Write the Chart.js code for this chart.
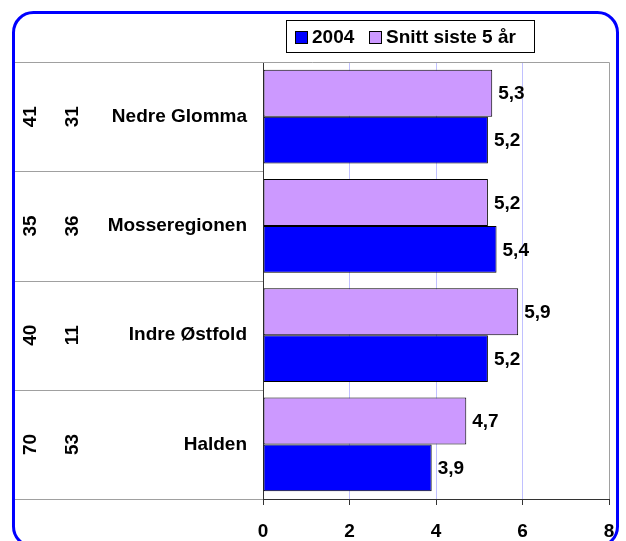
<!DOCTYPE html>
<html>
<head>
<meta charset="utf-8">
<script src="https://cdn.jsdelivr.net/npm/chart.js@4/dist/chart.umd.min.js"></script>
<style>
  html, body { margin: 0; padding: 0; background: #fff; }
  canvas { display: block; }
</style>
</head>
<body>
<canvas id="chart" width="626" height="541"></canvas>
<script>
// regioner og verdier
const regions = ['Nedre Glomma', 'Mosseregionen', 'Indre Østfold', 'Halden'];
const values2004 = [5.2, 5.4, 5.2, 3.9];
const valuesAvg5 = [5.3, 5.2, 5.9, 4.7];
const rankA = [41, 35, 40, 70];
const rankB = [31, 36, 11, 53];
const xTicks = [0, 2, 4, 6, 8];

const FONT = '"Liberation Sans", Arial, sans-serif';
const BLUE = '#0000ff';
const PURPLE = '#cc99ff';
const GRAY = '#a0a0a0';

const fmt = v => v.toFixed(1).replace('.', ',');

// ramme, skillelinjer, rangtall, legende og verdietiketter
const decorations = {
    id: 'decorations',
    beforeDatasetsDraw(chart) {
        const { ctx, chartArea } = chart;
        const yScale = chart.scales.y;
        ctx.save();
        ctx.strokeStyle = GRAY;
        ctx.lineWidth = 1;
        // topplinje og høyre kant av plottet
        ctx.beginPath();
        ctx.moveTo(15, chartArea.top + 0.5);
        ctx.lineTo(chartArea.right + 0.5, chartArea.top + 0.5);
        ctx.lineTo(chartArea.right + 0.5, chartArea.bottom);
        ctx.stroke();
        // skillelinjer mellom regionene
        for (let i = 0; i <= regions.length; i++) {
            const y = Math.round(yScale.getPixelForValue(i - 0.5)) + 0.5;
            ctx.beginPath();
            ctx.moveTo(15, y);
            ctx.lineTo(chartArea.left, y);
            ctx.stroke();
        }
        ctx.restore();
    },
    afterDraw(chart) {
        const { ctx } = chart;
        const yScale = chart.scales.y;
        ctx.save();

        // rangtall, rotert
        ctx.fillStyle = '#000';
        ctx.font = 'bold 19px ' + FONT;
        ctx.textAlign = 'center';
        ctx.textBaseline = 'middle';
        regions.forEach((_, i) => {
            const y = yScale.getPixelForValue(i);
            [[30, rankA[i]], [72, rankB[i]]].forEach(([x, v]) => {
                ctx.save();
                ctx.translate(x, y);
                ctx.rotate(-Math.PI / 2);
                ctx.fillText(String(v), 0, 1);
                ctx.restore();
            });
        });

        // verdietiketter ved enden av stolpene
        ctx.textAlign = 'left';
        chart.data.datasets.forEach((ds, di) => {
            const meta = chart.getDatasetMeta(di);
            meta.data.forEach((bar, i) => {
                ctx.fillText(fmt(ds.data[i]), bar.x + 6, bar.y + 1);
            });
        });

        // legende
        ctx.fillStyle = '#fff';
        ctx.fillRect(286.5, 20.5, 248, 32);
        ctx.strokeStyle = '#000';
        ctx.lineWidth = 1;
        ctx.strokeRect(286.5, 20.5, 248, 32);
        const items = [
            { label: '2004', color: BLUE, x: 295 },
            { label: 'Snitt siste 5 år', color: PURPLE, x: 369 }
        ];
        items.forEach(it => {
            ctx.fillStyle = it.color;
            ctx.fillRect(it.x + 0.5, 31.5, 12, 12);
            ctx.strokeRect(it.x + 0.5, 31.5, 12, 12);
            ctx.fillStyle = '#000';
            ctx.fillText(it.label, it.x + 17, 38);
        });

        // avrundet ytre ramme
        ctx.strokeStyle = BLUE;
        ctx.lineWidth = 3;
        ctx.beginPath();
        ctx.roundRect(13.5, 12.5, 604, 534, 20);
        ctx.stroke();

        ctx.restore();
    }
};

new Chart(document.getElementById('chart'), {
    type: 'bar',
    data: {
        labels: regions,
        datasets: [
            {
                label: 'Snitt siste 5 år',
                data: valuesAvg5,
                backgroundColor: PURPLE,
                borderColor: '#000',
                borderWidth: 1,
                borderSkipped: false
            },
            {
                label: '2004',
                data: values2004,
                backgroundColor: BLUE,
                borderColor: '#000',
                borderWidth: 1,
                borderSkipped: false
            }
        ]
    },
    options: {
        indexAxis: 'y',
        responsive: false,
        animation: false,
        categoryPercentage: 0.86,
        barPercentage: 1,
        layout: { padding: { top: 62, right: 17, left: 0, bottom: 0 } },
        plugins: {
            legend: { display: false },
            tooltip: { enabled: false }
        },
        scales: {
            x: {
                min: 0,
                max: 8,
                afterBuildTicks: scale => { scale.ticks = xTicks.map(v => ({ value: v })); },
                afterFit: scale => {
                    scale.height = 42;
                    scale.paddingLeft = 0;
                    scale.paddingRight = 0;
                },
                ticks: {
                    color: '#000',
                    font: { family: FONT, size: 19, weight: 'bold' },
                    padding: 15
                },
                grid: {
                    color: ctx => (ctx.tick && ctx.tick.value > 0 && ctx.tick.value < 8) ? '#c0c0ff' : 'rgba(0,0,0,0)',
                    tickColor: '#333',
                    tickLength: 6
                },
                border: { color: '#333' }
            },
            y: {
                afterFit: scale => { scale.width = 263; },
                ticks: {
                    color: '#000',
                    font: { family: FONT, size: 19, weight: 'bold' },
                    padding: 16
                },
                grid: { display: true, drawOnChartArea: false, drawTicks: false },
                border: { color: '#333' }
            }
        }
    },
    plugins: [decorations]
});
</script>
</body>
</html>
